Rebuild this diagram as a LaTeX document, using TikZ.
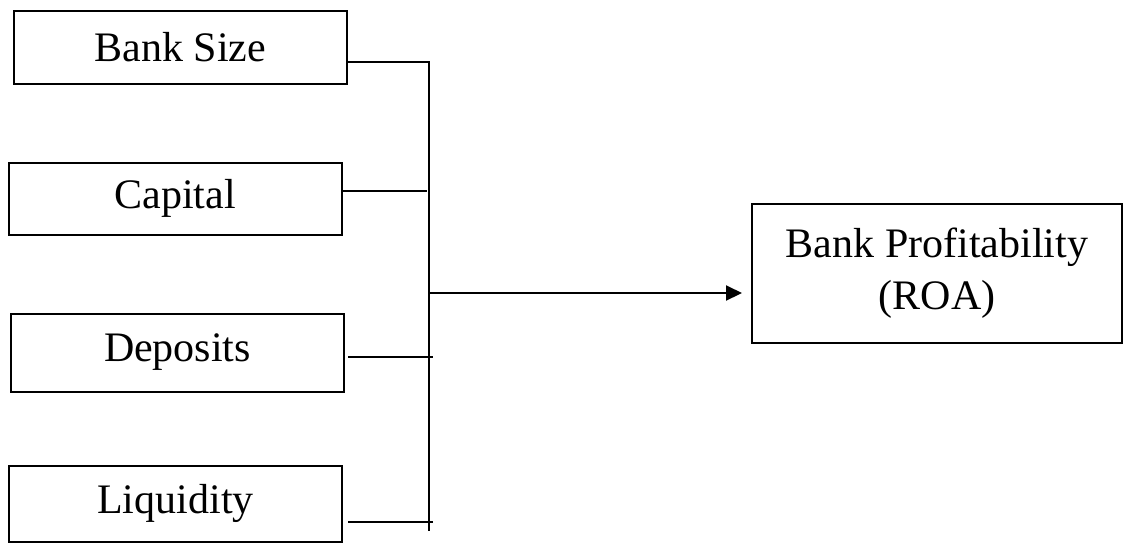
\documentclass[tikz,border=0pt]{standalone}
\usepackage{fontspec}
\setmainfont{Liberation Serif}
\usepackage{tikz}
\usetikzlibrary{arrows.meta,shapes}

\tikzset{
  inbox/.style={draw, line width=1pt, rectangle, minimum width=166.5pt, minimum height=36.5pt, font=\fontsize{21}{25}\selectfont},
  outbox/.style={draw, line width=1pt, rectangle, minimum width=185pt, minimum height=69.5pt, align=center, font=\fontsize{21}{26}\selectfont},
  bus/.style={line width=0.6pt},
}

\begin{document}
\begin{tikzpicture}[x=0.5pt,y=-0.5pt]
        \useasboundingbox (0,0) rectangle (1123,543);
        % left boxes
        \node[inbox] (size) at (180.5,47.5) {Bank Size};
        \node[inbox, minimum height=36pt] (capital) at (175,198.5) {Capital};
        \node[inbox, minimum height=39pt] (deposits) at (177.5,352.5) {Deposits};
        \node[inbox, minimum height=38pt] (liquidity) at (175.5,503.5) {Liquidity};
        % right box
        \node[outbox] (roa) at (937,273.5) {Bank Profitability\\(ROA)};
        % bus
        \coordinate (j1) at (429,62);
        \coordinate (j2) at (427,191);
        \coordinate (j3) at (433,357);
        \coordinate (j4) at (433,522);
        \coordinate (jend) at (429,531);
        \coordinate (jout) at (428,293);
        \draw[bus] (size.east |- j1) -- (j1) -- (jend);
        \draw[bus] (capital.east |- j2) -- (j2);
        \draw[bus] ([xshift=1.5pt]deposits.east |- j3) -- (j3);
        \draw[bus] ([xshift=2.5pt]liquidity.east |- j4) -- (j4);
        \draw[line width=1pt, shorten >=4.5pt, -{Triangle[length=8pt,width=7.5pt]}] (jout) -- (roa.west |- jout);
    \end{tikzpicture}
\end{document}
